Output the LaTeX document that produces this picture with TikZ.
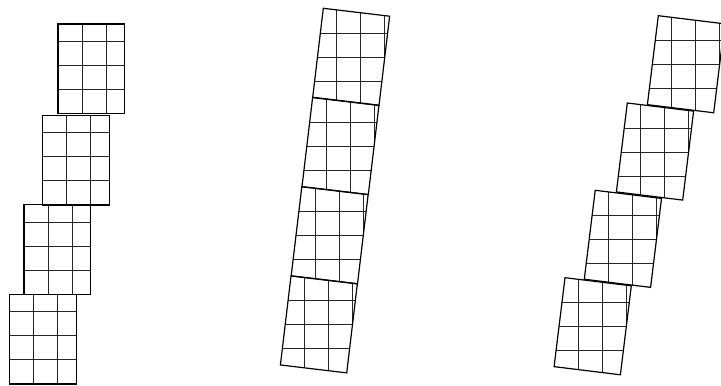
\documentclass[tikz,border=0pt]{standalone}
\tikzset{
  gridline/.style={line width=0.45pt, black!85},
  tileborder/.style={line width=0.6pt, black, line join=miter},
}
\def\tileW{66.8}
\def\tileL{89.6}
\newcommand{\drawtile}[3]{%
  \pgfmathsetmacro{\ca}{cos(#3)}%
  \pgfmathsetmacro{\sa}{sin(#3)}%
  \pgfmathsetmacro{\trx}{#1+\tileW*\ca}%
  \pgfmathsetmacro{\try}{#2+\tileW*\sa}%
  \pgfmathsetmacro{\blx}{#1-\tileL*\sa}%
  \pgfmathsetmacro{\bly}{#2+\tileL*\ca}%
  \pgfmathsetmacro{\brx}{\trx-\tileL*\sa}%
  \pgfmathsetmacro{\bry}{\try+\tileL*\ca}%
  \begin{scope}
    \clip (#1,#2) -- (\trx,\try) -- (\brx,\bry) -- (\blx,\bly) -- cycle;
    \foreach \k in {1,2,3} {
      \draw[gridline] (\blx+24*\k, #2-20) -- (\blx+24*\k, \bry+5);
      \draw[gridline] (\blx-5, \bry-24*\k) -- (\trx+5, \bry-24*\k);
    }
  \end{scope}
  \draw[tileborder] (#1,#2) -- (\trx,\try) -- (\brx,\bry) -- (\blx,\bly) -- cycle;
}
\begin{document}
\begin{tikzpicture}[x=0.5pt, y=-0.5pt]
  \clip (0,0) rectangle (721,385);
  % left column: axis-aligned tiles
  \drawtile{58}{24}{0}
  \drawtile{42.7}{115.3}{0}
  \drawtile{24}{204.7}{0}
  \drawtile{9.7}{294.3}{0}
  % middle column: rotated tiles, chained
  \drawtile{323.3}{8.3}{6.8}
  \drawtile{312.6}{97.6}{6.8}
  \drawtile{301.8}{186.8}{6.8}
  \drawtile{291.0}{276.0}{6.8}
  % right column: rotated tiles, shifted
  \drawtile{658.3}{15.7}{7.0}
  \drawtile{627.3}{103}{7.0}
  \drawtile{595.2}{190.3}{7.0}
  \drawtile{565}{277.7}{7.0}
\end{tikzpicture}
\end{document}
